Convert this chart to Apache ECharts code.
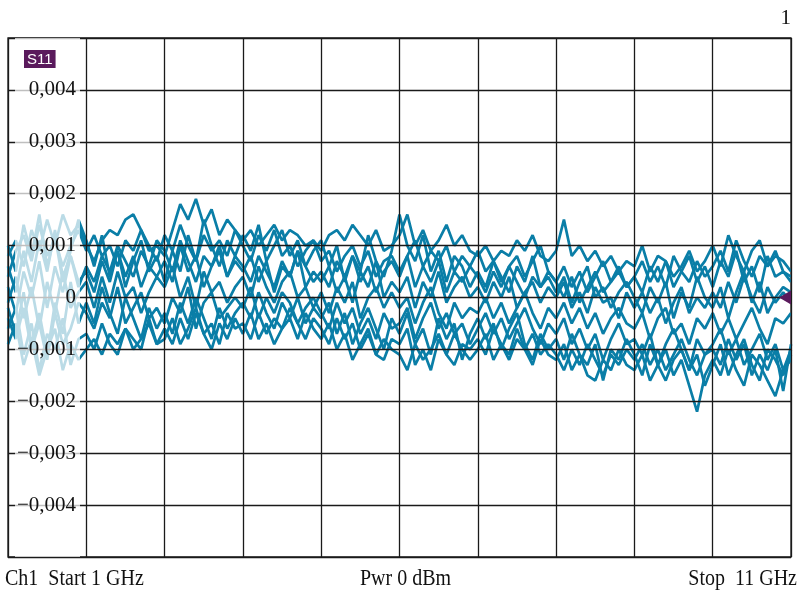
<!DOCTYPE html>
<html>
<head>
<meta charset="utf-8">
<script src="https://cdn.jsdelivr.net/npm/echarts@6/dist/echarts.min.js"></script>
<style>
html,body{margin:0;padding:0;background:#fff;}
#chart{width:801px;height:591px;}
</style>
</head>
<body>
<div id="chart"></div>
<script>
// Frequency points (GHz)
const freqGHz = [
  1.0,1.1,1.2,1.3,1.4,1.5,1.6,1.7,1.8,1.9,
  2.0,2.1,2.2,2.3,2.4,2.5,2.6,2.7,2.8,2.9,
  3.0,3.1,3.2,3.3,3.4,3.5,3.6,3.7,3.8,3.9,
  4.0,4.1,4.2,4.3,4.4,4.5,4.6,4.7,4.8,4.9,
  5.0,5.1,5.2,5.3,5.4,5.5,5.6,5.7,5.8,5.9,
  6.0,6.1,6.2,6.3,6.4,6.5,6.6,6.7,6.8,6.9,
  7.0,7.1,7.2,7.3,7.4,7.5,7.6,7.7,7.8,7.9,
  8.0,8.1,8.2,8.3,8.4,8.5,8.6,8.7,8.8,8.9,
  9.0,9.1,9.2,9.3,9.4,9.5,9.6,9.7,9.8,9.9,
  10.0,10.1,10.2,10.3,10.4,10.5,10.6,10.7,10.8,10.9,
  11.0
];
// S11 traces, values in units of 1e-4
const traceA = [
  8,11,6,13,9,15,10,16,12,14,
  10,7,11,13,12,15,16,13,9,10,
  8,13,18,15,19,14,17,12,15,13,
  11,13,10,12,14,11,13,12,10,11,
  9,12,13,11,14,12,10,13,9,10,
  12,16,10,13,9,11,14,10,12,9,
  8,10,7,9,8,11,9,12,8,7,
  9,15,8,10,7,9,6,8,5,7,
  6,10,5,8,7,4,6,9,5,7,
  10,6,12,8,5,9,11,6,8,7,
  5
];
const traceB = [
  4,9,12,7,14,8,11,6,10,13,
  9,12,8,10,6,11,9,13,10,7,
  12,9,14,10,7,12,9,11,8,13,
  10,7,12,9,13,8,10,6,9,11,
  7,9,5,8,10,6,9,4,7,8,
  5,8,11,6,9,7,10,5,8,6,
  9,5,7,3,6,8,4,7,10,5,
  3,6,2,5,1,4,7,3,5,2,
  4,1,6,3,7,2,5,8,3,6,
  2,7,4,9,3,6,1,8,4,5,
  3
];
const traceC = [
  2,-3,5,0,7,-2,6,1,8,3,
  5,1,7,3,9,4,8,2,6,4,
  7,3,10,5,8,2,6,9,4,7,
  5,8,3,7,1,6,4,9,2,5,
  3,6,1,4,-1,5,2,7,0,3,
  1,4,-2,3,0,5,-1,2,4,0,
  2,-1,3,0,4,-2,1,3,-1,2,
  0,3,-2,1,-3,2,-1,0,-4,1,
  -2,1,-3,0,-5,-1,2,-3,0,-2,
  1,-2,3,-1,4,0,-3,2,-1,1,
  -1
];
const traceD = [
  -1,4,-4,2,-6,3,-3,5,-2,1,
  3,-2,4,-1,5,0,2,-3,1,4,
  2,6,0,4,-2,5,1,3,-1,2,
  4,0,6,2,-1,3,5,0,2,-2,
  1,-3,2,-1,3,-4,0,2,-2,1,
  -2,0,-5,-1,2,-3,-6,-1,-4,-2,
  -3,0,-4,-1,-5,-2,1,-3,-6,-2,
  -4,-1,-5,-2,-6,-3,-7,-4,-2,-5,
  -6,-3,-8,-4,-2,-7,-5,-9,-4,-6,
  -3,-7,-4,-8,-5,-2,-6,-9,-4,-5,
  -3
];
const traceE = [
  -4,-8,-2,-10,-5,-12,-3,-9,-6,-1,
  -3,-6,-1,-4,2,-5,-2,1,-4,-2,
  -5,0,-3,2,-6,-1,1,-4,-2,0,
  -2,2,-4,0,-3,1,-1,-5,-2,0,
  -3,-6,-1,-5,-2,-7,-4,-8,-3,-6,
  -5,-2,-8,-4,-1,-6,-3,-7,-5,-9,
  -6,-3,-7,-4,-8,-5,-2,-6,-9,-5,
  -7,-4,-9,-6,-10,-7,-12,-8,-5,-9,
  -8,-11,-7,-13,-9,-6,-10,-14,-8,-11,
  -9,-6,-11,-8,-13,-10,-7,-12,-9,-14,
  -10
];
const traceF = [
  -6,-2,-11,-5,-14,-7,-10,-4,-13,-8,
  -7,-10,-5,-9,-11,-6,-8,-10,-4,-9,
  -8,-4,-9,-6,-2,-7,-5,-9,-3,-6,
  -5,-8,-3,-7,-4,-6,-2,-5,-8,-4,
  -6,-9,-4,-8,-5,-10,-7,-11,-12,-8,
  -9,-6,-13,-10,-14,-8,-11,-7,-10,-12,
  -10,-7,-12,-9,-11,-6,-10,-13,-8,-11,
  -12,-9,-14,-11,-15,-16,-12,-14,-10,-13,
  -14,-11,-16,-13,-10,-15,-12,-17,-22,-15,
  -12,-15,-10,-14,-17,-11,-13,-16,-19,-14,
  -12
];
const traceG = [
  -9,-5,-13,-8,-15,-10,-6,-14,-9,-12,
  -10,-8,-11,-7,-9,-6,-10,-8,-5,-9,
  -6,-9,-4,-8,-3,-7,-10,-5,-8,-4,
  -7,-3,-8,-5,-9,-6,-4,-8,-3,-6,
  -8,-5,-10,-7,-12,-9,-6,-11,-8,-10,
  -11,-14,-9,-12,-10,-7,-11,-13,-9,-10,
  -8,-11,-6,-9,-12,-8,-10,-7,-11,-9,
  -11,-14,-10,-13,-9,-12,-15,-11,-13,-10,
  -12,-9,-13,-10,-14,-11,-8,-12,-15,-11,
  -10,-13,-8,-12,-9,-15,-11,-14,-10,-18,
  -9
];
const traceH = [
  6,1,9,3,11,5,13,4,8,2,
  6,3,8,5,10,7,4,9,6,11,
  9,5,11,7,3,8,6,10,4,8,
  6,3,8,5,2,7,4,9,6,3,
  5,2,7,4,8,3,6,1,5,7,
  4,8,2,6,3,7,1,5,3,6,
  4,1,5,2,6,3,0,4,2,5,
  3,0,4,-1,2,5,1,3,6,2,
  4,7,3,6,2,8,5,3,7,4,
  6,9,5,11,7,4,8,6,9,5,
  4
];
const traceI = [
  10,5,14,8,16,6,12,3,9,15,
  11,6,12,4,9,2,7,11,5,8,
  3,9,5,12,7,15,10,6,11,8,
  12,9,14,7,10,13,8,11,6,9,
  11,6,10,3,8,5,12,7,4,9,
  16,10,7,12,5,9,3,8,6,2,
  5,2,7,4,1,6,3,8,2,4,
  1,4,-1,3,6,0,2,-2,1,3,
  0,-3,2,-1,3,-4,1,-2,4,0,
  -2,2,-4,1,5,-1,3,-3,0,2,
  1
];
const traceJ = [
  -2,-7,1,-9,-3,-11,-1,-7,3,-5,
  -1,-5,2,-3,-7,0,-4,-8,-2,-6,
  -3,-7,-1,-5,0,-4,-8,-2,-6,-3,
  -1,-4,1,-3,-6,-1,-4,0,-5,-2,
  -4,-1,-7,-3,-9,-5,-2,-6,-10,-4,
  -7,-3,-9,-6,-11,-4,-8,-5,-12,-7,
  -4,-8,-5,-10,-6,-3,-9,-12,-7,-10,
  -8,-12,-7,-11,-13,-9,-16,-10,-12,-8,
  -11,-15,-9,-13,-16,-12,-10,-14,-11,-17,
  -13,-9,-15,-11,-8,-13,-16,-10,-12,-15,
  -11
];
const traces = [traceA, traceB, traceC, traceD, traceE, traceF, traceG, traceH, traceI, traceJ];
const markerPoint = [11, 0];

function fmtY(v) {
  if (v === 0) return '0';
  if (Math.abs(v) >= 50) return '';
  const s = (Math.abs(v) / 10000).toFixed(3).replace('.', ',');
  return (v < 0 ? '\u2212' : '') + s;
}

const chart = echarts.init(document.getElementById('chart'), null, {renderer: 'canvas'});
const serif = '"Liberation Serif", "DejaVu Serif", serif';
const gridColor = '#1a1a1a';
const traceColor = '#0a7ea7';

const series = traces.map((t, k) => ({
  type: 'line',
  name: 'S11-' + k,
  xAxisIndex: 0,
  yAxisIndex: 0,
  data: freqGHz.map((f, i) => [f, t[i]]),
  showSymbol: false,
  symbol: 'none',
  lineStyle: {color: traceColor, width: 2.7},
  z: 2,
  silent: true,
  animation: false
}));
series.push({
  type: 'scatter',
  xAxisIndex: 0,
  yAxisIndex: 0,
  data: [markerPoint],
  clip: false,
  symbol: 'triangle',
  symbolRotate: 90,
  symbolSize: [14, 12],
  symbolOffset: [-6, 0],
  itemStyle: {color: '#5a1a5c', opacity: 1},
  z: 8,
  silent: true,
  animation: false
});

const bottomText = (opts, text) => Object.assign({
  type: 'text', z: 7, top: 568, scaleY: 1.12,
  style: {text: text, fill: '#111', font: '20px ' + serif}
}, opts);

chart.setOption({
  animation: false,
  backgroundColor: '#fff',
  grid: {
    left: 8, right: 10, top: 38, bottom: 34,
    show: true, borderColor: gridColor, borderWidth: 1.3, backgroundColor: 'transparent'
  },
  xAxis: [{
    type: 'value', min: 1, max: 11, interval: 1, z: 3,
    axisLine: {show: false}, axisTick: {show: false}, axisLabel: {show: false},
    splitLine: {show: true, lineStyle: {color: gridColor, width: 1.3}}
  }],
  yAxis: [{
    type: 'value', min: -50, max: 50, interval: 10, z: 3,
    axisLine: {show: false}, axisTick: {show: false}, axisLabel: {show: false},
    splitLine: {show: true, lineStyle: {color: gridColor, width: 1.3}}
  }, {
    type: 'value', min: -50, max: 50, interval: 10, z: 6, position: 'left',
    axisLine: {show: false}, axisTick: {show: false},
    splitLine: {show: false},
    axisLabel: {
      show: true, inside: true, align: 'right', margin: 68,
      formatter: fmtY,
      color: '#111', fontFamily: serif, fontSize: 21
    }
  }],
  series: series,
  graphic: [
    {
      type: 'rect', z: 5, silent: true,
      shape: {x: 15, y: 38, width: 65, height: 519},
      style: {fill: 'rgba(255,255,255,0.72)'}
    },
    {
      type: 'text', z: 7, left: 24, top: 50,
      style: {
        text: 'S11', fill: '#fff', backgroundColor: '#5a1a5c',
        font: '15px "Liberation Sans", Arial, sans-serif', padding: [2, 3, 1, 3]
      }
    },
    bottomText({left: 5}, 'Ch1  Start 1 GHz'),
    bottomText({left: 360}, 'Pwr 0 dBm'),
    bottomText({right: 4}, 'Stop  11 GHz'),
    {
      type: 'text', z: 7, right: 10, top: 8,
      style: {text: '1', fill: '#111', font: '21px ' + serif}
    }
  ]
});
</script>
</body>
</html>
